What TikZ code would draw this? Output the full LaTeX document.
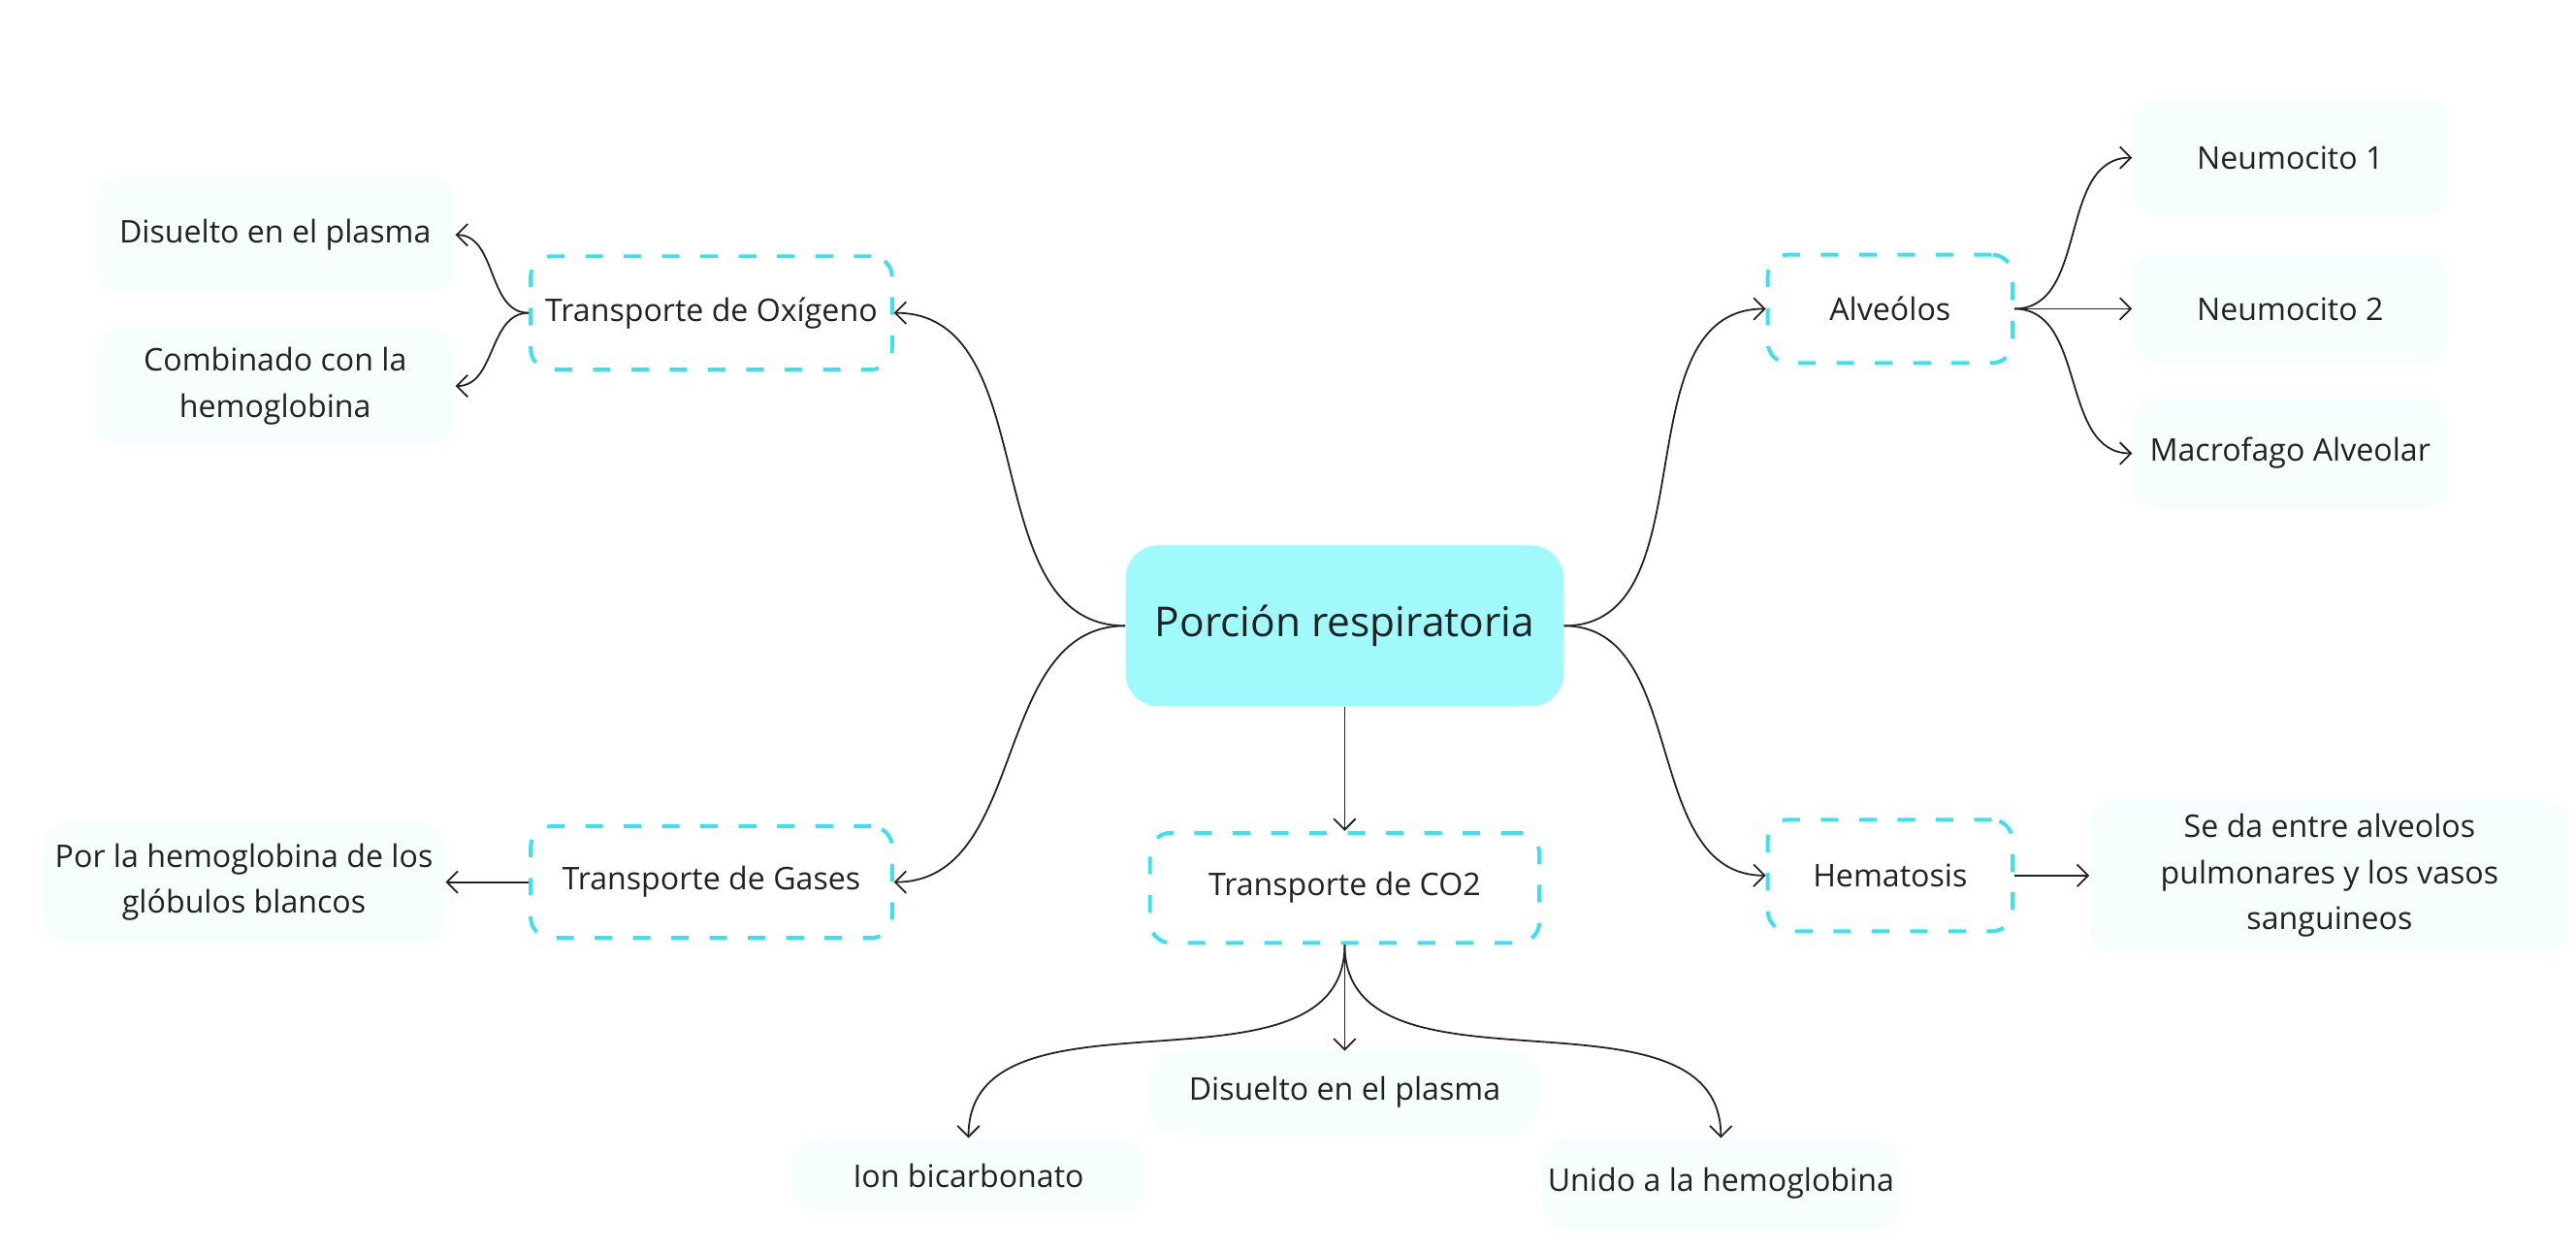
\documentclass[tikz,border=0pt]{standalone}
\usepackage{fontspec}
\setmainfont{Open Sans}
\usetikzlibrary{arrows.meta}
\definecolor{cus-cyan}{RGB}{160, 250, 252}
\definecolor{cus-dash}{RGB}{58, 225, 238}
\definecolor{cus-leaf}{RGB}{247, 254, 254}
\definecolor{cus-ink}{RGB}{34, 34, 34}
\tikzset{
	root/.style={fill=cus-cyan, rounded corners=6mm, minimum width=80mm, minimum height=29.4mm, text=cus-ink, font=\fontsize{21.4}{26}\selectfont},
	topic/.style={draw=cus-dash, line width=0.7mm, dash pattern=on 3.2mm off 3.8mm, rounded corners=3.8mm, text=cus-ink, font=\fontsize{16.2}{20}\selectfont},
	leaf/.style={fill=cus-leaf, rounded corners=4.5mm, align=center, text=cus-ink, font=\fontsize{16.2}{24}\selectfont},
	link/.style={draw=cus-ink, line width=0.9pt, -{Straight Barb[length=2mm,width=4mm]}}
}

\begin{document}
\begin{tikzpicture}[x=0.3mm, y=0.3mm]
\useasboundingbox (0,0) rectangle (1568,-760.4);

% centro y temas
\node [root] (root) at (818.5,-381) {Porción respiratoria};
\node [topic, minimum width=66mm, minimum height=20.7mm] (oxi) at (433,-190.5) {Transporte de Oxígeno};
\node [topic, minimum width=44.7mm, minimum height=19.8mm] (alv) at (1150.5,-188) {Alveólos};
\node [topic, minimum width=66mm, minimum height=20.4mm] (gas) at (433,-537) {Transporte de Gases};
\node [topic, minimum width=71.1mm, minimum height=20.1mm] (co2) at (818.5,-540.5) {Transporte de CO2};
\node [topic, minimum width=44.7mm, minimum height=20.4mm] (hem) at (1150.5,-533) {Hematosis};

% hojas
\node [leaf, minimum width=65.7mm, minimum height=21mm] (oxi-dis) at (167.5,-143) {Disuelto en el plasma};
\node [leaf, minimum width=65.7mm, minimum height=21mm] (oxi-com) at (167.5,-235) {Combinado con la\\hemoglobina};
\node [leaf, minimum width=73.5mm, minimum height=21.9mm] (gas-hem) at (148.5,-537) {Por la hemoglobina de los\\glóbulos blancos};
\node [leaf, minimum width=57.6mm, minimum height=21.6mm] (alv-n1) at (1394,-96) {Neumocito 1};
\node [leaf, minimum width=57.6mm, minimum height=20.1mm] (alv-n2) at (1394,-188) {Neumocito 2};
\node [leaf, minimum width=57.6mm, minimum height=20.4mm] (alv-mac) at (1394,-276) {Macrofago Alveolar};
\node [leaf, minimum width=87.6mm, minimum height=27.9mm] (hem-sd) at (1418,-533) {Se da entre alveolos\\pulmonares y los vasos\\sanguineos};
\node [leaf, minimum width=71.1mm, minimum height=15mm] (co2-dis) at (818.5,-665) {Disuelto en el plasma};
\node [leaf, minimum width=64.5mm, minimum height=13.5mm] (co2-ion) at (589.5,-715.5) {Ion bicarbonato};
\node [leaf, minimum width=64.5mm, minimum height=16.5mm] (co2-uni) at (1047.5,-720.5) {Unido a la hemoglobina};

% conectores
\draw [link] (root.west) to [out=180, in=0] (oxi.east);
\draw [link] (root.west) to [out=180, in=0] (gas.east);
\draw [link] (root.east) to [out=0, in=180] (alv.west);
\draw [link] (root.east) to [out=0, in=180] (hem.west);
\draw [link] (root.south) -- (co2.north);
\draw [link] (oxi.west) to [out=180, in=0] (oxi-dis.east);
\draw [link] (oxi.west) to [out=180, in=0] (oxi-com.east);
\draw [link] (gas.west) -- (gas-hem.east);
\draw [link] (alv.east) to [out=0, in=180] (alv-n1.west);
\draw [link] (alv.east) -- (alv-n2.west);
\draw [link] (alv.east) to [out=0, in=180] (alv-mac.west);
\draw [link] (hem.east) -- (hem-sd.west);
\draw [link] (co2.south) -- (co2-dis.north);
\draw [link] (co2.south) to [out=-90, in=90] (co2-ion.north);
\draw [link] (co2.south) to [out=-90, in=90] (co2-uni.north);
\end{tikzpicture}
\end{document}
